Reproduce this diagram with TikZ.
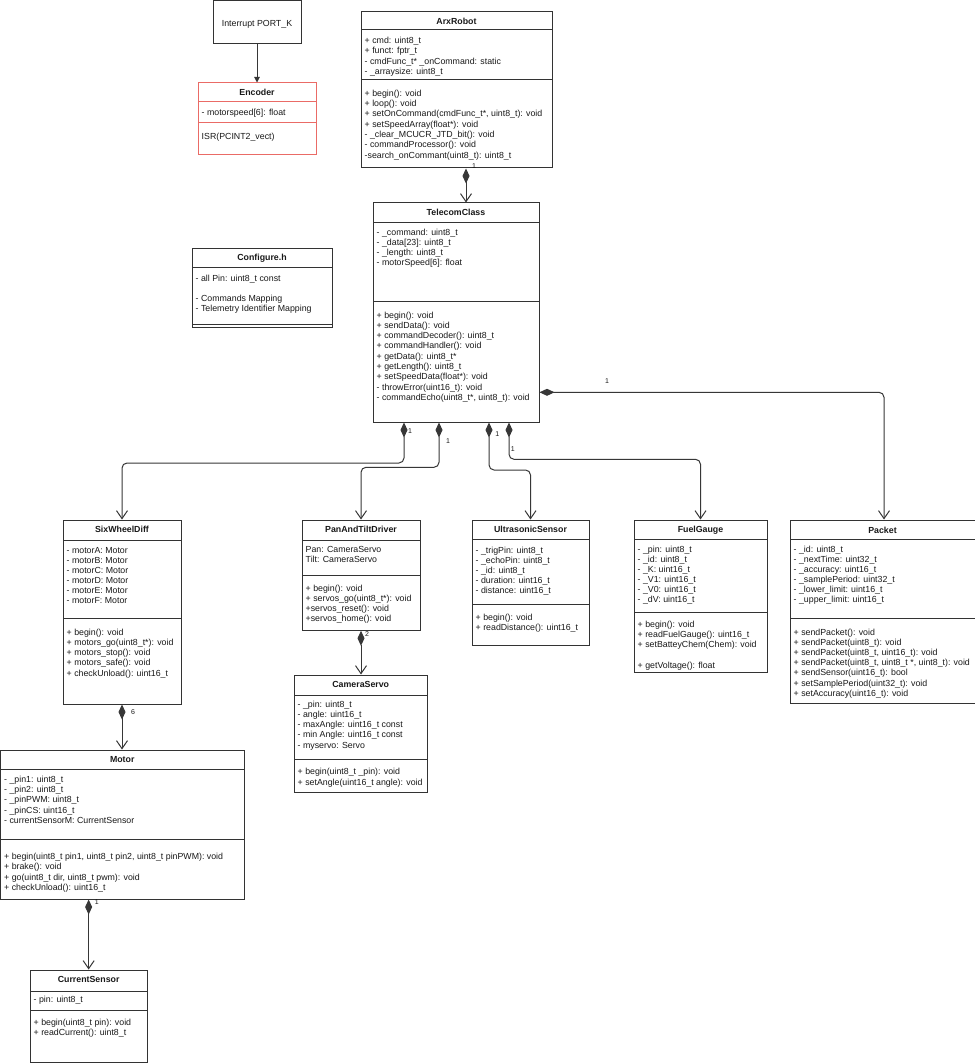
\documentclass[tikz,border=0pt]{standalone}
\usepackage{fontspec}
\setmainfont{Liberation Sans}
\usetikzlibrary{arrows.meta,fit}
\definecolor{encred}{RGB}{234,107,102}
\definecolor{lnc}{RGB}{55,55,55}
\newcommand\umlcls[6][]{%
  \coordinate (#2-nw) at (#3,#4);
  \coordinate (#2-se) at (#5,#6);
  \node[box,#1,fit=(#2-nw)(#2-se)] (#2) {};}
\newcommand\clsdiv[4][]{\draw[divl,#1] (#2,#4) -- (#3,#4);}
\newcommand\clslines[5]{\foreach \t [count=\i from 0] in {#5}{\node[txt] (#1-\i) at (#2,{#3+\i*#4}) {\t};}}
\newcommand\clstitle[2]{\node[ttlst] (#1-t) at ([yshift=-13pt]#1.north) {#2};}
\begin{document}
\begin{tikzpicture}[x=1pt,y=-1pt,
  box/.style={draw=black!80, line width=1pt, fill=white, inner sep=0pt, outer sep=0.5pt, rectangle},
  divl/.style={draw=black!80, line width=1pt},
  txt/.style={font=\fontsize{8.8}{10.4}\selectfont, text=black!90, anchor=base west, inner sep=0pt},
  txtc/.style={font=\fontsize{8.8}{10.4}\selectfont, text=black!90, anchor=base, inner sep=0pt},
  ttlst/.style={font=\bfseries\fontsize{8.8}{10.4}\selectfont, text=black!90, anchor=base, inner sep=0pt},
  lbl/.style={font=\fontsize{7}{8}\selectfont, text=black!90, inner sep=0pt},
  comp/.style={draw=lnc, line width=1pt, rounded corners=5pt,
    {Diamond[length=15pt,width=7pt]}-{Straight Barb[length=8pt,width=11pt]}},
  assoc/.style={draw=lnc, line width=1pt, -{Triangle[length=5.5pt,width=5.5pt]}}]
\fill[white] (0,0) rectangle (974,1064);
\useasboundingbox (0,0) rectangle (974,1064);

% Interrupt PORT_K
\umlcls{intr}{213}{0.5}{301}{44}
\node[txtc] (intr-t) at (257,27) {Interrupt PORT\_K};

% Encoder
\umlcls[draw=encred]{enc}{198}{83}{316}{155}
\clstitle{enc}{Encoder}
\clsdiv[encred]{198}{316}{101.7}
\node[txt] (enc-a) at (201.5,115.7) {- motorspeed[6]: float};
\clsdiv[encred]{198}{316}{123}
\node[txt] (enc-m) at (201.5,139.5) {ISR(PCINT2\_vect)};

% ArxRobot
\umlcls{arx}{361}{12}{552}{168}
\clstitle{arx}{ArxRobot}
\clsdiv{361}{552}{30}
\clslines{arx-a}{364.5}{43.7}{10.2}{{+ cmd: uint8\_t},{+ funct: fptr\_t},{- cmdFunc\_t* \_onCommand: static},{- \_arraysize: uint8\_t}}
\clsdiv{361}{552}{80}
\clslines{arx-m}{364.5}{96.3}{10.33}{{+ begin(): void},{+ loop(): void},{+ setOnCommand(cmdFunc\_t*, uint8\_t): void},{+ setSpeedArray(float*): void},{- \_clear\_MCUCR\_JTD\_bit(): void},{- commandProcessor(): void},{-search\_onCommant(uint8\_t): uint8\_t}}

% TelecomClass
\umlcls{tele}{373}{203}{539}{422}
\clstitle{tele}{TelecomClass}
\clsdiv{373}{539}{222.3}
\clslines{tele-a}{376.5}{235.7}{10}{{- \_command: uint8\_t},{- \_data[23]: uint8\_t},{- \_length: uint8\_t},{- motorSpeed[6]: float}}
\clsdiv{373}{539}{301.7}
\clslines{tele-m}{376.5}{318}{10.29}{{+ begin(): void},{+ sendData(): void},{+ commandDecoder(): uint8\_t},{+ commandHandler(): void},{+ getData(): uint8\_t*},{+ getLength(): uint8\_t},{+ setSpeedData(float*): void},{- throwError(uint16\_t): void},{- commandEcho(uint8\_t*, uint8\_t): void}}

% Configure.h
\umlcls{conf}{192}{248.3}{332}{327.7}
\clstitle{conf}{Configure.h}
\clsdiv{192}{332}{267.7}
\node[txt] (conf-a) at (195.5,281) {- all Pin: uint8\_t const};
\clslines{conf-b}{195.5}{301.3}{10.4}{{- Commands Mapping},{- Telemetry Identifier Mapping}}
\clsdiv{192}{332}{324.3}

% SixWheelDiff
\umlcls{six}{63}{520}{181}{704}
\clstitle{six}{SixWheelDiff}
\clsdiv{63}{181}{540}
\clslines{six-a}{66.5}{553}{10.15}{{- motorA: Motor},{- motorB: Motor},{- motorC: Motor},{- motorD: Motor},{- motorE: Motor},{- motorF: Motor}}
\clsdiv{63}{181}{618.3}
\clslines{six-m}{66.5}{635}{10.3}{{+ begin(): void},{+ motors\_go(uint8\_t*): void},{+ motors\_stop(): void},{+ motors\_safe(): void},{+ checkUnload(): uint16\_t}}

% PanAndTiltDriver
\umlcls{pan}{302}{520}{420}{630.3}
\clstitle{pan}{PanAndTiltDriver}
\clsdiv{302}{420}{540}
\clslines{pan-a}{305.5}{552.3}{10.4}{{Pan: CameraServo},{Tilt: CameraServo}}
\clsdiv{302}{420}{575}
\clslines{pan-m}{305.5}{591}{10.33}{{+ begin(): void},{+ servos\_go(uint8\_t*): void},{+servos\_reset(): void},{+servos\_home(): void}}

% CameraServo
\umlcls{cam}{294}{675}{427.5}{792.3}
\clstitle{cam}{CameraServo}
\clsdiv{294}{427.5}{695}
\clslines{cam-a}{297.5}{707}{10.3}{{- \_pin: uint8\_t},{- angle: uint16\_t},{- maxAngle: uint16\_t const},{- min Angle: uint16\_t const},{- myservo: Servo}}
\clsdiv{294}{427.5}{759.3}
\clslines{cam-m}{297.5}{774.7}{10.3}{{+ begin(uint8\_t \_pin): void},{+ setAngle(uint16\_t angle): void}}

% UltrasonicSensor
\umlcls{ultra}{472}{520}{589}{645}
\clstitle{ultra}{UltrasonicSensor}
\clsdiv{472}{589}{539.5}
\clslines{ultra-a}{475.5}{553}{10.2}{{- \_trigPin: uint8\_t},{- \_echoPin: uint8\_t},{- \_id: uint8\_t},{- duration: uint16\_t},{- distance: uint16\_t}}
\clsdiv{472}{589}{604.5}
\clslines{ultra-m}{475.5}{620.7}{10}{{+ begin(): void},{+ readDistance(): uint16\_t}}

% FuelGauge
\umlcls{fuel}{634}{520}{767}{672.3}
\clstitle{fuel}{FuelGauge}
\clsdiv{634}{767}{539.5}
\clslines{fuel-a}{637.5}{552.3}{10.1}{{- \_pin: uint8\_t},{- \_id: uint8\_t},{- \_K: uint16\_t},{- \_V1: uint16\_t},{- \_V0: uint16\_t},{- \_dV: uint16\_t}}
\clsdiv{634}{767}{612.3}
\clslines{fuel-m}{637.5}{627}{10.4}{{+ begin(): void},{+ readFuelGauge(): uint16\_t},{+ setBatteyChem(Chem): void}}
\node[txt] (fuel-m3) at (637.5,668.3) {+ getVoltage(): float};

% Packet
\umlcls{packet}{790}{520}{976}{703}
\node[ttlst] (packet-t) at (882.5,533) {Packet};
\clsdiv{790}{976}{539.3}
\clslines{packet-a}{793.5}{552.3}{10}{{- \_id: uint8\_t},{- \_nextTime: uint32\_t},{- \_accuracy: uint16\_t},{- \_samplePeriod: uint32\_t},{- \_lower\_limit: uint16\_t},{- \_upper\_limit: uint16\_t}}
\clsdiv{790}{976}{618.3}
\clslines{packet-m}{793.5}{635}{10.2}{{+ sendPacket(): void},{+ sendPacket(uint8\_t): void},{+ sendPacket(uint8\_t, uint16\_t): void},{+ sendPacket(uint8\_t, uint8\_t *, uint8\_t): void},{+ sendSensor(uint16\_t): bool},{+ setSamplePeriod(uint32\_t): void},{+ setAccuracy(uint16\_t): void}}

% Motor
\umlcls{motor}{0.5}{750}{244}{899}
\clstitle{motor}{Motor}
\clsdiv{0.5}{244}{769.3}
\clslines{motor-a}{4}{782.3}{10.25}{{- \_pin1: uint8\_t},{- \_pin2: uint8\_t},{- \_pinPWM: uint8\_t},{- \_pinCS: uint16\_t},{- currentSensorM: CurrentSensor}}
\clsdiv{0.5}{244}{839.3}
\clslines{motor-m}{4}{859.3}{10.5}{{+ begin(uint8\_t pin1, uint8\_t pin2, uint8\_t pinPWM): void},{+ brake(): void},{+ go(uint8\_t dir, uint8\_t pwm): void},{+ checkUnload(): uint16\_t}}

% CurrentSensor
\umlcls{cur}{30}{970}{147.3}{1062.3}
\clstitle{cur}{CurrentSensor}
\clsdiv{30}{147.3}{991}
\node[txt] (cur-a) at (33.5,1002.3) {- pin: uint8\_t};
\clsdiv{30}{147.3}{1010.7}
\clslines{cur-m}{33.5}{1025.7}{10}{{+ begin(uint8\_t pin): void},{+ readCurrent(): uint8\_t}}

% connectors
\draw[assoc] (intr.south) -- (enc.north);

\coordinate (k0) at (466,0);
\draw[comp] (arx.south -| k0) -- (tele.north -| k0);
\node[lbl] (l0) at (474,166) {1};

\coordinate (k1) at (404,463);
\draw[comp] (tele.south -| k1) -- (k1) -| (six.north);
\node[lbl] (l1) at (410,431) {1};

\coordinate (k2) at (439,467.3);
\draw[comp] (tele.south -| k2) -- (k2) -| (pan.north);
\node[lbl] (l2) at (448,441) {1};

\coordinate (k3) at (489,470);
\draw[comp] (tele.south -| k3) -- (k3) -| (ultra.north);
\node[lbl] (l3) at (497.3,434.3) {1};

\coordinate (k4) at (509,459.3);
\draw[comp] (tele.south -| k4) -- (k4) -| (fuel.north);
\node[lbl] (l4) at (512.7,449.3) {1};

\coordinate (k5) at (884,392.3);
\draw[comp] (tele.east |- k5) -- (k5) -- (k5 |- packet.north);
\node[lbl] (l5) at (607,381) {1};

\draw[comp] (six.south) -- (six.south |- motor.north);
\node[lbl] (l6) at (133,712) {6};

\draw[comp] (pan.south) -- (pan.south |- cam.north);
\node[lbl] (l7) at (367,634) {2};

\draw[comp] (motor.south -| cur.north) -- (cur.north);
\node[lbl] (l8) at (96.7,902.3) {1};
\end{tikzpicture}
\end{document}
